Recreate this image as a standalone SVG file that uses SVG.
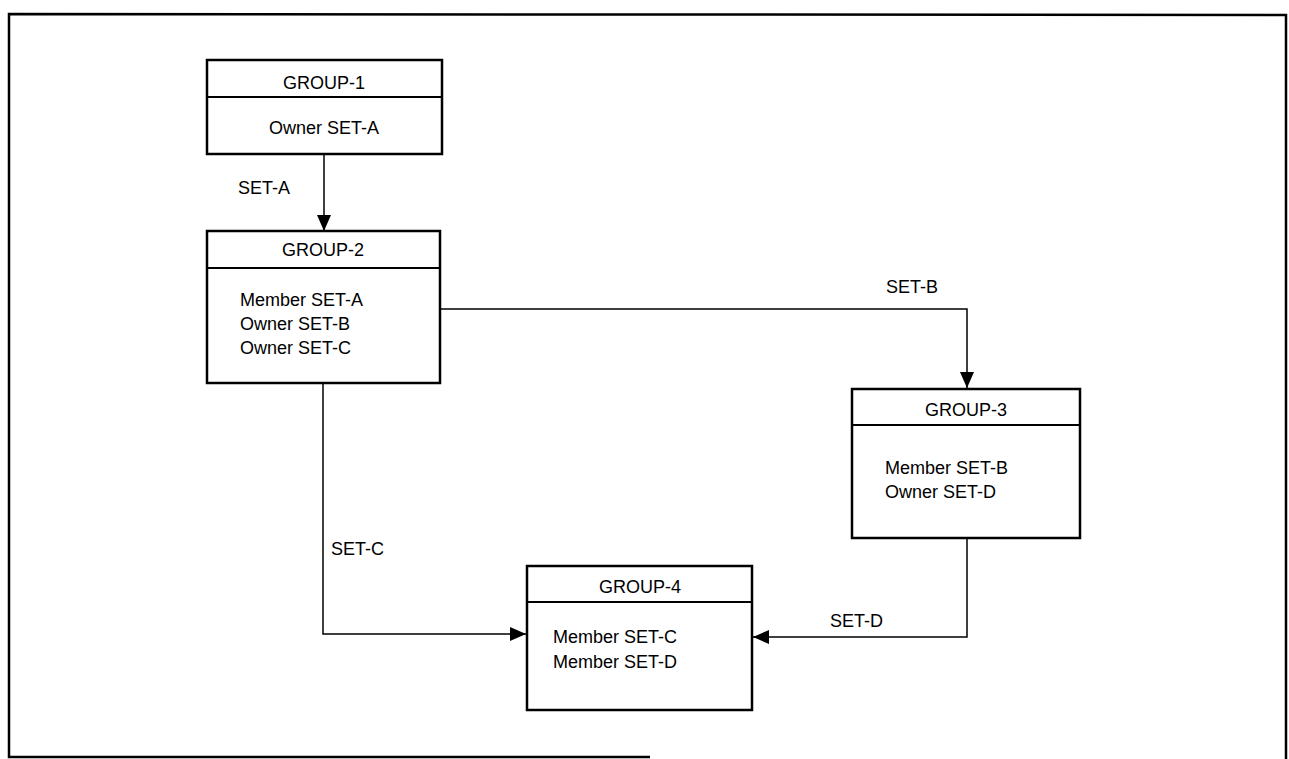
<svg xmlns="http://www.w3.org/2000/svg" width="1289" height="759" viewBox="0 0 1289 759">
<defs>
<marker id="ah" viewBox="0 0 16 14" refX="16" refY="7" markerWidth="16" markerHeight="14" markerUnits="userSpaceOnUse" orient="auto">
<path d="M0,0 L16,7 L0,14 z" fill="#000"/>
</marker>
<style>
.box{fill:#fff;stroke:#000;stroke-width:2.5}
.div{stroke:#000;stroke-width:2}
.frame{fill:none;stroke:#000;stroke-width:2.5}
.conn{fill:none;stroke:#000;stroke-width:1.5;marker-end:url(#ah)}
text{font-family:"Liberation Sans","DejaVu Sans",sans-serif;font-size:18px;fill:#000}
.c{text-anchor:middle}
</style>
</defs>
<rect width="1289" height="759" fill="#fff"/>
<path class="frame" d="M650,757 L9,757 L9,14 L1286,15 L1286,759"/>
<g id="connectors">
<path class="conn" d="M324,154 L324,231"/>
<path class="conn" d="M440,309 L967,309 L967,388"/>
<path class="conn" d="M323,383 L323,634 L526,634"/>
<path class="conn" d="M967,538 L967,637 L753,637"/>
<text x="238" y="194">SET-A</text>
<text x="886" y="293">SET-B</text>
<text x="331" y="555">SET-C</text>
<text x="830" y="627">SET-D</text>
</g>
<g id="group1">
<rect class="box" x="207" y="60" width="235" height="94"/>
<line class="div" x1="207" y1="97" x2="442" y2="97"/>
<text class="c" x="324" y="89">GROUP-1</text>
<text class="c" x="324" y="134">Owner SET-A</text>
</g>
<g id="group2">
<rect class="box" x="207" y="231" width="233" height="152"/>
<line class="div" x1="207" y1="268" x2="440" y2="268"/>
<text class="c" x="323" y="256">GROUP-2</text>
<text x="240" y="306">Member SET-A</text>
<text x="240" y="330">Owner SET-B</text>
<text x="240" y="354">Owner SET-C</text>
</g>
<g id="group3">
<rect class="box" x="852" y="389" width="228" height="149"/>
<line class="div" x1="852" y1="425" x2="1080" y2="425"/>
<text class="c" x="966" y="416">GROUP-3</text>
<text x="885" y="474">Member SET-B</text>
<text x="885" y="498">Owner SET-D</text>
</g>
<g id="group4">
<rect class="box" x="527" y="566" width="225" height="144"/>
<line class="div" x1="527" y1="602" x2="752" y2="602"/>
<text class="c" x="640" y="593">GROUP-4</text>
<text x="553" y="643">Member SET-C</text>
<text x="553" y="668">Member SET-D</text>
</g>
</svg>
